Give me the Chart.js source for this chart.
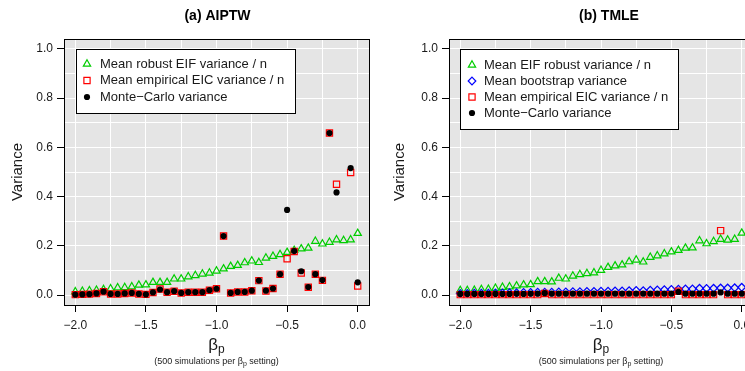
<!DOCTYPE html>
<html><head><meta charset="utf-8">
<script src="https://cdn.jsdelivr.net/npm/chart.js@4/dist/chart.umd.min.js"></script>
<style>
html,body{margin:0;padding:0;background:#fff;overflow:hidden;width:745px;height:371px}
canvas{position:absolute;top:0}
#cA{left:0}
#cB{left:372px}
</style></head><body>
<canvas id="cA" width="380" height="371"></canvas>
<canvas id="cB" width="400" height="371"></canvas>
<script>
/* variance of AIPTW / TMLE estimators across beta_p settings */
const betaP = [-2.00,-1.95,-1.90,-1.85,-1.80,-1.75,-1.70,-1.65,-1.60,-1.55,-1.50,-1.45,-1.40,-1.35,-1.30,-1.25,-1.20,-1.15,-1.10,-1.05,
               -1.00,-0.95,-0.90,-0.85,-0.80,-0.75,-0.70,-0.65,-0.60,-0.55,-0.50,-0.45,-0.40,-0.35,-0.30,-0.25,-0.20,-0.15,-0.10,-0.05,0.00];

// (a) AIPTW
const aiptwRobust = [0.014,0.016,0.018,0.020,0.023,0.026,0.030,0.031,0.034,0.041,0.042,0.052,0.052,0.052,0.066,0.066,0.075,0.080,0.086,0.090,
                     0.098,0.107,0.117,0.121,0.132,0.139,0.133,0.151,0.158,0.165,0.174,0.182,0.188,0.191,0.219,0.208,0.215,0.225,0.222,0.225,0.251];
const aiptwEIC    = [0.002,0.003,0.004,0.007,0.014,0.005,0.005,0.007,0.009,0.005,0.003,0.011,0.025,0.012,0.016,0.009,0.012,0.012,0.012,0.020,
                     0.026,0.240,0.009,0.013,0.013,0.018,0.059,0.017,0.027,0.085,0.148,0.177,0.090,0.032,0.085,0.060,0.658,0.450,null,0.498,0.037];
const aiptwMC     = [0.002,0.003,0.004,0.007,0.014,0.005,0.005,0.007,0.009,0.005,0.003,0.011,0.023,0.012,0.016,0.009,0.012,0.012,0.012,0.020,
                     0.026,0.240,0.009,0.013,0.013,0.018,0.059,0.018,0.027,0.085,0.346,0.179,0.097,0.033,0.085,0.061,0.658,0.417,null,0.516,0.052];

// (b) TMLE
const tmleRobust = [0.019,0.019,0.020,0.023,0.024,0.028,0.032,0.034,0.038,0.042,0.043,0.055,0.055,0.054,0.069,0.066,0.078,0.084,0.088,0.091,
                    0.101,0.113,0.119,0.123,0.136,0.143,0.135,0.154,0.160,0.168,0.176,0.182,0.191,0.192,0.221,0.209,0.218,0.227,0.224,0.227,0.252];
const tmleBoot   = [0.007,0.007,0.008,0.008,0.008,0.009,0.009,0.010,0.010,0.011,0.011,0.012,0.012,0.012,0.013,0.013,0.014,0.014,0.015,0.015,
                    0.016,0.016,0.017,0.017,0.018,0.019,0.018,0.020,0.021,0.022,0.023,0.024,0.025,0.025,0.028,0.027,0.028,0.029,0.029,0.030,0.032];
const tmleEIC    = [0.002,0.002,0.002,0.002,0.002,0.002,0.002,0.002,0.002,0.002,0.002,0.002,0.007,0.002,0.002,0.002,0.002,0.002,0.002,0.002,
                    0.002,0.002,0.002,0.002,0.002,0.002,0.002,0.002,0.002,0.002,0.002,0.016,0.002,0.002,0.002,0.002,0.002,0.262,0.002,0.002,0.002];
const tmleMC     = [0.005,0.005,0.005,0.005,0.005,0.005,0.005,0.005,0.006,0.005,0.006,0.006,0.008,0.006,0.006,0.006,0.006,0.006,0.006,0.006,
                    0.006,0.006,0.006,0.006,0.006,0.006,0.006,0.006,0.006,0.006,0.006,0.013,0.006,0.006,0.006,0.006,0.006,0.011,0.006,0.006,0.006];

const xGrid = [-2.00,-1.75,-1.50,-1.25,-1.00,-0.75,-0.50,-0.25,0.00];
const yGrid = [0.0,0.1,0.2,0.3,0.4,0.5,0.6,0.7,0.8,0.9,1.0];

const FONT = '"Liberation Sans", Arial, Helvetica, sans-serif';
const GREEN = '#00cd00', RED = '#ff0000', BLUE = '#0000ff', INK = '#1a1a1a';
const NONE = 'rgba(0,0,0,0)';

const isMajor = (v, k) => Math.abs(v*k - Math.round(v*k)) < 1e-6;
const fmt = v => v.toFixed(1).replace('-', '\u2212');
const pts = ys => betaP.map((x,i)=>({x, y:ys[i]})).filter(p=>p.y!==null);

// marker looks, shared by the datasets and the legend
const MARK = {
  robust:{ sym:'triangle', r:4.2, color:GREEN },
  boot:  { sym:'rectRot',  r:3.8, color:BLUE },
  eic:   { sym:'rect',     r:4.4, color:RED },
  mc:    { sym:'circle',   r:3.1, color:'#000', solid:true }
};
const LW = 1.2;

// legend glyphs, same geometry Chart.js uses for its point styles
function glyph(ctx, m, x, y){
  const r = m.r;
  ctx.beginPath();
  if (m.sym==='circle') ctx.arc(x, y, r, 0, Math.PI*2);
  else if (m.sym==='rect'){ const s = Math.SQRT1_2*r; ctx.rect(x-s, y-s, 2*s, 2*s); }
  else if (m.sym==='rectRot'){ ctx.moveTo(x, y-r); ctx.lineTo(x+r, y); ctx.lineTo(x, y+r); ctx.lineTo(x-r, y); ctx.closePath(); }
  else { const a = 2*Math.PI/3;
    ctx.moveTo(x, y-r); ctx.lineTo(x+Math.sin(a)*r, y-Math.cos(a)*r); ctx.lineTo(x+Math.sin(2*a)*r, y-Math.cos(2*a)*r); ctx.closePath(); }
  if (m.solid){ ctx.fillStyle = m.color; ctx.fill(); }
  else { ctx.strokeStyle = m.color; ctx.lineWidth = LW; ctx.stroke(); }
}

// text with a subscript run: parts = [[text, size, dy], ...]
function runs(ctx, parts, cx, y){
  let w = 0;
  parts.forEach(p=>{ ctx.font = p[1]+'px '+FONT; w += ctx.measureText(p[0]).width; });
  let x = cx - w/2;
  parts.forEach(p=>{ ctx.font = p[1]+'px '+FONT; ctx.fillText(p[0], x, y+p[2]); x += ctx.measureText(p[0]).width; });
}

function decor(o){
  return {
    id:'decor',
    beforeDraw(chart){
      const {ctx, chartArea:a} = chart;
      ctx.save(); ctx.fillStyle = '#e5e5e5';
      ctx.fillRect(a.left, a.top, a.right-a.left, a.bottom-a.top); ctx.restore();
    },
    afterDraw(chart){
      const {ctx, chartArea:a} = chart;
      const cx = (a.left+a.right)/2;
      ctx.save();
      ctx.strokeStyle = '#000'; ctx.lineWidth = 1;
      ctx.strokeRect(Math.round(a.left)+0.5, Math.round(a.top)+0.5, Math.round(a.right-a.left), Math.round(a.bottom-a.top));

      // legend box
      const L = o.legend;
      ctx.fillStyle = '#fff'; ctx.fillRect(L.x, L.y, L.w, L.h);
      ctx.strokeStyle = '#000'; ctx.lineWidth = 1; ctx.strokeRect(L.x+0.5, L.y+0.5, L.w, L.h);
      ctx.textBaseline = 'middle'; ctx.textAlign = 'left';
      o.items.forEach((it,i)=>{
        const y = L.y + L.row0 + i*L.step;
        glyph(ctx, it.m, L.x+L.symX, y);
        ctx.font = '13px '+FONT; ctx.fillStyle = INK;
        ctx.fillText(it.label, L.x+L.textX, y);
      });

      // panel title
      ctx.textAlign = 'center'; ctx.fillStyle = '#000';
      ctx.font = 'bold 14px '+FONT;
      ctx.fillText(o.title, cx + o.titleDx, 16);

      // axis titles
      ctx.fillStyle = INK; ctx.textAlign = 'left'; ctx.textBaseline = 'alphabetic';
      runs(ctx, [['\u03b2',17,0],['p',12,3]], cx, 350);
      runs(ctx, [['(500 simulations per \u03b2',9,0],['p',7,2],[' setting)',9,0]], cx, 364);
      ctx.translate(o.yTitleX, (a.top+a.bottom)/2); ctx.rotate(-Math.PI/2);
      ctx.textAlign = 'center'; ctx.textBaseline = 'middle'; ctx.font = '15px '+FONT;
      ctx.fillText('Variance', 0, 0);
      ctx.restore();
    }
  };
}

function scales(left){
  return {
    x:{ type:'linear', min:-2.08, max:0.08,
      afterBuildTicks: s => { s.ticks = xGrid.map(v=>({value:v})); },
      afterFit: s => { s.height = 66; },
      grid:{ color:'#fff', lineWidth:1, tickLength:7, tickColor: c => isMajor(c.tick.value,2) ? '#000' : NONE },
      border:{ display:false },
      ticks:{ autoSkip:false, maxRotation:0, padding:6, color:INK, font:{family:FONT, size:12},
              callback: v => isMajor(v,2) ? fmt(v) : '' } },
    y:{ type:'linear', min:-0.04, max:1.04,
      afterBuildTicks: s => { s.ticks = yGrid.map(v=>({value:v})); },
      afterFit: s => { s.width = left; },
      grid:{ color:'#fff', lineWidth:1, tickLength:7, tickColor: c => isMajor(c.tick.value,5) ? '#000' : NONE },
      border:{ display:false },
      ticks:{ autoSkip:false, padding:4, color:INK, font:{family:FONT, size:12},
              callback: v => isMajor(v,5) ? fmt(v) : '' } }
  };
}

function series(label, ys, m, order){
  return { label, data:pts(ys), order, pointStyle:m.sym, pointRadius:m.r,
    pointBackgroundColor: m.solid ? m.color : NONE, pointBorderColor:m.color, pointBorderWidth: m.solid ? 0 : LW };
}

function panel(id, items, left, right, deco){
  const datasets = items.map((it,i)=>series(it.label, it.ys, it.m, items.length-1-i));
  deco.items = items;
  return new Chart(document.getElementById(id), {
    type:'scatter',
    data:{ datasets },
    options:{
      responsive:false, animation:false, devicePixelRatio:1, events:[],
      layout:{ padding:{ top:39, right, bottom:0, left:0 } },
      scales: scales(left),
      plugins:{ legend:{display:false}, title:{display:false}, tooltip:{enabled:false} }
    },
    plugins:[decor(deco)]
  });
}

panel('cA', [
  { label:'Mean robust EIF variance / n',   ys:aiptwRobust, m:MARK.robust },
  { label:'Mean empirical EIC variance / n', ys:aiptwEIC,   m:MARK.eic },
  { label:'Monte\u2212Carlo variance',       ys:aiptwMC,    m:MARK.mc }
], 64, 11, {
  title:'(a) AIPTW', titleDx:1, yTitleX:18,
  legend:{ x:76, y:49, w:219, h:64, row0:15, step:16.5, symX:11, textX:24 }
});

panel('cB', [
  { label:'Mean EIF robust variance / n',   ys:tmleRobust, m:MARK.robust },
  { label:'Mean bootstrap variance',         ys:tmleBoot,   m:MARK.boot },
  { label:'Mean empirical EIC variance / n', ys:tmleEIC,    m:MARK.eic },
  { label:'Monte\u2212Carlo variance',       ys:tmleMC,     m:MARK.mc }
], 77, 19, {
  title:'(b) TMLE', titleDx:8, yTitleX:28,
  legend:{ x:88, y:49, w:218, h:80, row0:16, step:16, symX:12, textX:24 }
});
</script>
</body></html>
